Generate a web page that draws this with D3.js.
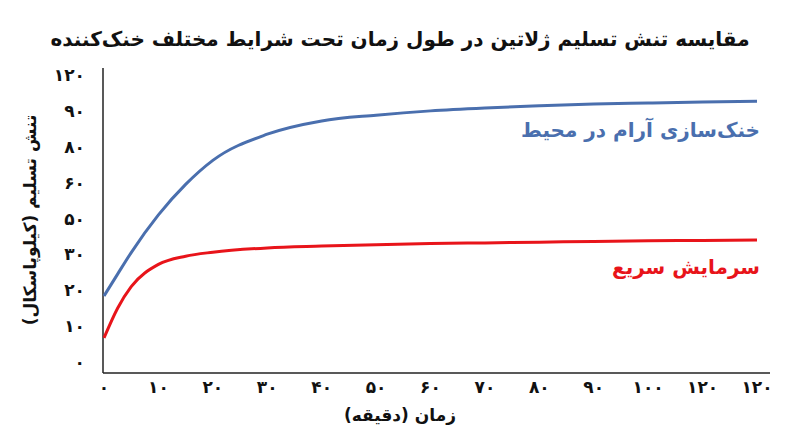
<!DOCTYPE html><html><head><meta charset="utf-8"><script src="https://d3js.org/d3.v7.min.js"></script>
<style>body{margin:0;background:#fff}text{font-family:"DejaVu Sans",sans-serif;font-weight:bold}</style></head><body>
<svg id="c" width="800" height="447"></svg>
<script>
const xTickLabels=["۰","۱۰","۲۰","۳۰","۴۰","۵۰","۶۰","۷۰","۸۰","۹۰","۱۰۰","۱۲۰","۱۲۰"];
const yTickLabels=["۰","۱۰","۲۰","۳۰","۵۰","۶۰","۸۰","۹۰","۱۲۰"];
const xPos=[0,0.25,0.5,1,1.5,2,3,4,5,6,7,8,9,10,11,12];
const ambient=[1.84,2.45,3.05,4.1,4.95,5.62,6.35,6.72,6.88,7.0,7.08,7.14,7.19,7.22,7.25,7.27];
const rapid=[0.67,1.5,2.1,2.72,2.95,3.06,3.18,3.23,3.27,3.3,3.32,3.34,3.36,3.38,3.39,3.4];
const title="مقایسه تنش تسلیم ژلاتین در طول زمان تحت شرایط مختلف خنک‌کننده";
const svg=d3.select("#c");
const x=d3.scaleLinear().domain([0,12]).range([104,757]);
const y=d3.scaleLinear().domain([0,8]).range([362,75]);
svg.append("text").attr("x",400).attr("y",46).attr("text-anchor","middle").attr("font-size",20).attr("fill","#111").text(title);
svg.append("line").attr("x1",103).attr("x2",103).attr("y1",68).attr("y2",373).attr("stroke","#222").attr("stroke-width",1.5);
svg.append("line").attr("x1",103).attr("x2",770).attr("y1",373).attr("y2",373).attr("stroke","#222").attr("stroke-width",1.5);
yTickLabels.forEach((t,i)=>svg.append("text").attr("x",85).attr("y",y(i)+6).attr("text-anchor","end").attr("font-size",17).attr("fill","#111").text(t));
xTickLabels.forEach((t,i)=>svg.append("text").attr("x",x(i)).attr("y",393).attr("text-anchor","middle").attr("font-size",17).attr("fill","#111").text(t));
svg.append("text").attr("x",400).attr("y",421).attr("text-anchor","middle").attr("font-size",17).attr("fill","#111").text("زمان (دقیقه)");
svg.append("text").attr("transform","translate(36,220) rotate(-90)").attr("text-anchor","middle").attr("font-size",17).attr("fill","#111").text("تنش تسلیم (کیلوپاسکال)");
const line=d3.line().x((d,i)=>x(xPos[i])).y(d=>y(d)).curve(d3.curveMonotoneX);
svg.append("path").attr("d",line(ambient)).attr("fill","none").attr("stroke","#4a6fae").attr("stroke-width",3);
svg.append("path").attr("d",line(rapid)).attr("fill","none").attr("stroke","#e8141a").attr("stroke-width",3);
svg.append("text").attr("x",760).attr("y",137).attr("text-anchor","end").attr("font-size",20).attr("fill","#4a6fae").text("خنک‌سازی آرام در محیط");
svg.append("text").attr("x",760).attr("y",274).attr("text-anchor","end").attr("font-size",20).attr("fill","#e8141a").text("سرمایش سریع");
</script></body></html>
